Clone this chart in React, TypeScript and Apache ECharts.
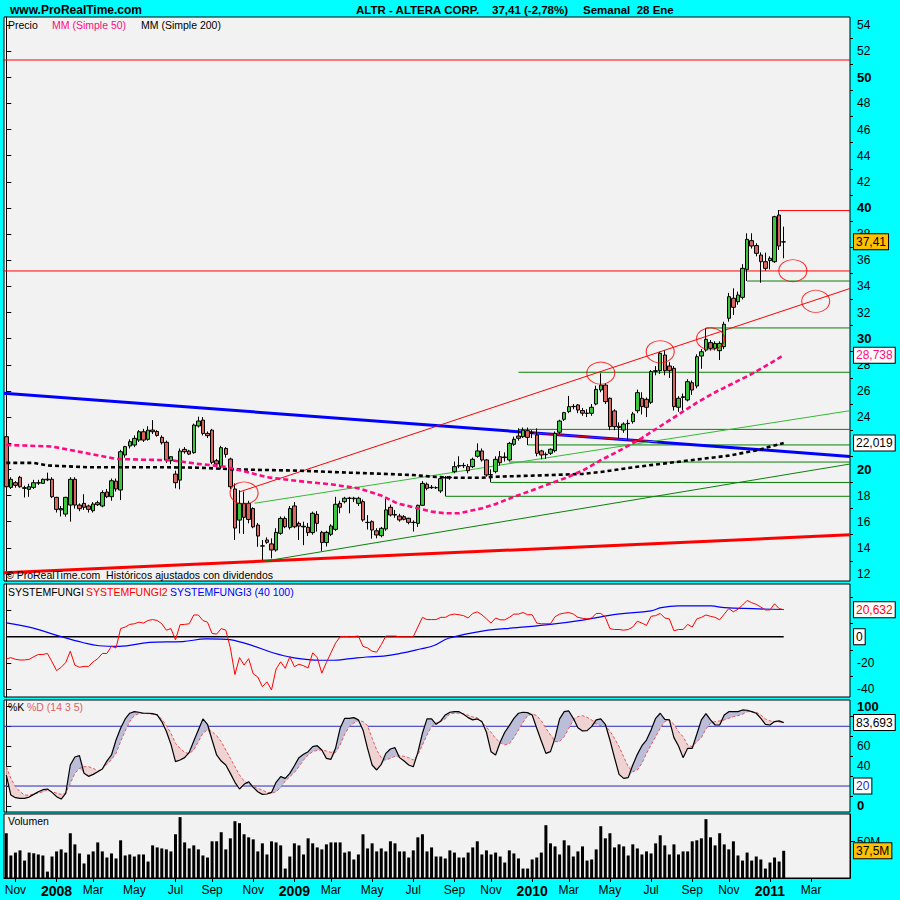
import React, { useEffect, useRef } from "react";
import * as echarts from "echarts";

const FONT = 'Arial, "Liberation Sans", sans-serif';
const START_UTC = Date.UTC(2007, 9, 22);
const N_WEEKS = 185;
const LAST_LABEL_IDX = 178;
const MONTHS = ["Ene", "Feb", "Mar", "Abr", "May", "Jun", "Jul", "Ago", "Sep", "Oct", "Nov", "Dic"];
const weeks: string[] = Array.from({ length: N_WEEKS }, (_, i) =>
  new Date(START_UTC + i * 7 * 86400000).toISOString().slice(0, 10)
);

// [open, close, low, high]
const ohlc: number[][] = [
  [22.5, 18.67, 18.3, 22.7], [18.62, 19.24, 18.5, 19.4], [18.98, 18.78, 18.6, 19.1], [19.39, 18.67, 18.6, 19.5], [18.55, 18.6, 17.85, 18.75],
  [18.47, 18.67, 17.9, 18.9], [18.62, 18.98, 18.5, 19.2], [18.95, 18.98, 18.8, 19.2], [18.93, 19.24, 18.9, 19.3], [19.2, 19.25, 19.1, 19.75],
  [19.24, 17.91, 17.8, 19.4], [17.86, 16.94, 16.7, 17.9], [16.9, 17.0, 16.4, 17.2], [16.58, 17.86, 16.38, 17.9], [17.27, 19.24, 16.0, 19.4],
  [19.24, 17.27, 17.0, 19.4], [17.27, 16.99, 16.8, 17.4], [17.4, 17.1, 16.9, 18.1], [17.2, 16.94, 16.7, 17.3], [16.84, 17.35, 16.7, 17.5],
  [17.3, 17.45, 17.2, 17.6], [17.2, 18.22, 17.1, 18.4], [18.27, 17.91, 17.8, 18.5], [17.91, 19.13, 17.6, 19.3], [19.1, 18.5, 18.3, 19.3],
  [18.42, 21.35, 17.65, 21.5], [21.1, 21.74, 20.9, 21.8], [21.79, 22.12, 21.6, 22.3], [21.86, 22.37, 21.7, 22.6], [22.24, 22.88, 22.1, 23.0],
  [22.88, 22.24, 22.1, 23.1], [22.3, 23.0, 22.2, 23.3], [23.01, 22.88, 22.7, 23.77], [22.9, 22.6, 22.5, 23.0], [22.45, 22.04, 21.9, 22.6],
  [22.07, 20.71, 20.5, 22.2], [20.66, 20.97, 20.4, 21.0], [19.64, 18.98, 18.55, 19.9], [19.18, 21.4, 18.47, 21.6], [21.53, 21.35, 21.2, 21.7],
  [21.4, 21.17, 21.1, 21.5], [21.28, 23.39, 21.2, 23.5], [23.32, 23.7, 23.2, 24.03], [23.77, 22.75, 22.6, 24.0], [22.75, 22.58, 22.4, 22.9],
  [23.0, 20.54, 20.4, 23.1], [20.66, 20.41, 20.2, 20.8], [20.2, 21.66, 20.0, 21.8], [21.6, 21.15, 20.9, 21.7], [20.79, 18.67, 18.5, 20.9],
  [18.5, 15.51, 14.6, 18.93], [16.12, 17.4, 15.1, 18.4], [17.4, 16.33, 15.05, 18.3], [17.4, 16.17, 15.87, 17.6], [17.0, 15.6, 15.5, 17.1],
  [15.74, 14.9, 14.08, 15.9], [14.15, 14.13, 13.06, 14.6], [14.6, 14.42, 14.3, 14.8], [14.3, 13.83, 13.19, 14.72], [13.83, 15.18, 13.7, 15.5],
  [15.11, 16.25, 15.0, 16.4], [16.25, 15.61, 15.5, 16.4], [15.56, 17.0, 15.4, 17.2], [17.2, 15.61, 15.5, 17.5], [15.87, 15.66, 14.6, 16.0],
  [15.6, 15.65, 14.2, 16.0], [15.57, 15.16, 14.9, 15.9], [15.16, 16.64, 15.0, 16.77], [16.56, 15.87, 15.24, 16.8], [15.18, 14.4, 13.76, 15.3],
  [14.4, 15.18, 14.1, 15.3], [15.03, 15.67, 14.9, 15.8], [15.41, 17.33, 15.3, 17.9], [17.4, 17.1, 16.64, 17.6], [17.53, 17.79, 17.4, 17.9],
  [17.8, 17.78, 16.64, 17.9], [17.75, 17.8, 17.5, 17.9], [17.4, 17.79, 17.2, 17.9], [17.53, 16.13, 16.0, 17.7], [15.95, 15.93, 15.4, 16.5],
  [16.0, 15.36, 14.7, 16.1], [15.3, 14.98, 14.73, 15.5], [14.93, 15.49, 14.8, 15.6], [15.44, 16.9, 15.3, 17.79], [17.1, 16.51, 16.4, 17.3],
  [16.5, 16.55, 16.3, 16.9], [16.43, 16.13, 16.0, 16.6], [16.38, 16.18, 16.1, 16.5], [16.26, 15.95, 15.8, 16.3], [15.95, 15.93, 15.24, 16.1],
  [15.87, 17.25, 15.6, 17.3], [17.25, 18.93, 17.2, 19.1], [18.86, 18.55, 18.4, 19.0], [18.6, 18.63, 18.5, 18.8], [18.6, 18.6, 18.5, 18.7],
  [18.35, 19.29, 18.2, 19.4], [19.35, 19.38, 17.96, 19.5], [19.35, 19.4, 19.2, 19.5], [19.83, 20.21, 19.7, 20.6], [20.25, 20.3, 20.1, 21.0],
  [20.3, 20.28, 20.1, 20.5], [20.21, 19.9, 19.7, 20.4], [20.21, 20.77, 20.1, 20.9], [21.0, 21.41, 20.9, 21.99], [21.41, 20.72, 20.6, 21.6],
  [20.72, 19.57, 19.44, 20.8], [19.6, 19.57, 19.0, 20.0], [19.83, 20.77, 19.7, 21.0], [20.97, 20.51, 20.3, 21.4], [20.9, 20.95, 20.6, 21.3],
  [20.72, 21.99, 20.6, 22.1], [21.92, 22.3, 21.8, 22.5], [22.55, 22.38, 22.2, 23.14], [22.5, 23.0, 22.4, 23.2], [22.96, 22.45, 21.87, 23.2],
  [22.8, 22.8, 22.4, 23.0], [22.63, 21.23, 21.0, 23.14], [21.41, 21.1, 20.77, 21.5], [21.12, 21.15, 20.8, 21.3], [21.23, 21.54, 21.1, 21.6],
  [21.43, 22.76, 21.3, 22.9], [22.84, 23.7, 22.7, 23.8], [23.83, 24.34, 23.7, 24.4], [24.42, 24.8, 24.3, 25.62], [24.8, 24.82, 24.6, 25.0],
  [24.93, 24.54, 24.3, 25.0], [24.5, 24.3, 24.1, 24.7], [24.3, 24.28, 24.0, 24.6], [24.29, 24.75, 24.1, 25.0], [25.0, 26.12, 24.9, 26.4],
  [26.07, 26.45, 25.9, 27.35], [26.45, 25.18, 25.0, 26.6], [25.44, 23.27, 23.0, 25.5], [24.47, 23.27, 23.0, 24.6], [23.3, 23.2, 22.37, 23.6],
  [23.01, 23.47, 22.8, 23.6], [23.5, 23.52, 22.25, 23.8], [23.65, 24.24, 23.5, 24.4], [24.49, 25.87, 24.3, 26.1], [25.44, 24.8, 24.2, 25.9],
  [25.36, 24.75, 24.0, 25.5], [25.13, 27.48, 25.0, 27.6], [27.5, 27.55, 27.2, 27.9], [27.55, 28.88, 27.3, 29.0], [28.75, 27.55, 27.2, 29.1],
  [27.91, 27.55, 27.0, 28.2], [27.73, 24.8, 24.5, 27.9], [24.75, 25.44, 24.4, 25.6], [25.5, 25.56, 24.5, 25.8], [25.31, 26.71, 25.2, 26.9],
  [26.63, 26.07, 25.7, 26.8], [26.38, 28.62, 26.2, 28.8], [28.67, 29.0, 27.7, 29.2], [29.13, 29.95, 29.0, 30.82], [29.7, 29.26, 29.1, 29.9],
  [29.26, 29.64, 29.1, 29.8], [29.08, 29.64, 28.37, 29.8], [29.39, 31.1, 29.2, 31.3], [31.56, 33.21, 31.3, 33.5], [33.09, 32.4, 31.81, 33.85],
  [32.83, 33.34, 32.6, 33.6], [33.16, 35.38, 33.0, 35.7], [35.3, 37.6, 34.41, 38.06], [37.5, 37.09, 36.9, 38.06], [37.12, 36.53, 36.3, 37.3],
  [36.4, 35.89, 34.28, 36.6], [35.89, 35.38, 35.2, 36.58], [35.97, 36.15, 35.3, 36.3], [35.89, 39.33, 35.8, 39.4], [39.46, 37.09, 36.78, 39.84],
  [37.4, 37.41, 36.15, 38.57],
];

// Volume, millions
const volume: number[] = [
  61.6, 31, 35, 38, 24, 35, 34, 32.4, 31, 8.8,
  29.6, 36.6, 39.4, 35, 61.6, 46.3, 33.8, 20, 32.4, 36.6,
  49, 36.6, 28.2, 33.8, 26.9, 51.9, 31, 32.4, 29.6, 32.4,
  32.4, 22.7, 44.9, 42.1, 40.7, 39.4, 36.6, 60.2, 83.8, 49,
  40.7, 44.9, 39.4, 31, 28.2, 50.5, 50.5, 63, 39.4, 54.6,
  78.2, 75.5, 60.2, 56, 53.2, 36.6, 47.7, 32.4, 50.5, 49,
  44.9, 13, 29.6, 47.7, 44.9, 32.4, 54.6, 47.7, 42.1, 39.4,
  46.3, 49, 49, 49, 35, 36.6, 25.5, 32.4, 60.2, 40.7,
  47.7, 36.6, 40.7, 36.6, 50.5, 47.7, 36.6, 36.6, 28.2, 38,
  56, 60.2, 36.6, 42.1, 29.6, 29.6, 26.9,
  38, 35, 28.2, 28.2, 35, 42.1, 50.5, 32.4, 38, 32.4,
  35, 29.6, 21.3, 38, 33.8, 26.9, 13, 13, 25.5, 28.2,
  35, 72.7, 47.7, 43.5, 32.4, 51.9, 44.9, 29.6, 36.6, 43.5,
  24, 25.5, 39.4, 71.3, 54.6, 61.6, 42.1, 46.3, 43.5, 31,
  46.3, 40.7, 32.4, 36.6, 33.8, 47.7, 58.8, 44.9, 32.4, 46.3,
  32.4, 36.6, 36.6, 50.5, 51.9, 54.6, 81, 56, 44.9, 61.6,
  46.3, 39.4, 50.5, 31, 24, 35, 24, 29.6, 25.5, 13,
  21.3, 28.2, 22.7, 37.5,
];

// SYSTEMFUNGI2 (red)
const fungi2: number[] = [
  -17, -16, -17.3, -17.8, -17.8, -17.3, -15.3, -13.6, -13.6, -12.8,
  -19.2, -25.9, -23.4, -19.7, -11.1, -21.7, -23.4, -22.7, -22.7, -19.2,
  -16.8, -12.8, -12.8, -7.4, -8.6, 6.2, 7.4, 9.4, 9.9, 11.1,
  10.4, 12.4, 13.1, 12.4, 9.9, 5, 6.2, -2.4, 9.2, 9.4,
  9.9, 16.6, 16.6, 12.4, 11.1, 2.5, 2, 6.2, 5, -8.6,
  -28.9, -16, -21.7, -16.8, -28.4, -30.8, -38.2, -34.5, -40.7, -24.7,
  -19.2, -24.2, -15.3, -22.9, -21, -22.2, -23.9, -12.3, -16, -27.9,
  -19.7, -12.3, -4.9, 0, 0.2, 0, 0.1, 0.5, -7.4, -8.6,
  -11.1, -11.8, -6.1, 0.5, 0.5, 0.5, 0, 0, 0, 0,
  7.4, 14.8, 13.1, 13.1, 13.1, 14.8, 14.8, 16.6, 17.3, 16.8,
  16.1, 14.3, 17.8, 19, 16.8, 13.6, 10.4, 14.3, 12.9, 12.9,
  14.8, 17.3, 17.3, 18.5, 16.8, 16.8, 10.4, 9.9, 9.9, 9.9,
  15.3, 17.3, 18, 18.5, 17.3, 14.8, 14.1, 13.6, 14.3, 17.8,
  17.8, 14.8, 6.2, 5.5, 5.5, 5, 5.5, 7.4, 11.9, 10.4,
  8.7, 15.6, 16.1, 17.8, 14.3, 13.6, 4.5, 5.5, 5.5, 9.4,
  7.4, 13.6, 14.8, 16.6, 15.6, 14.8, 12.9, 17.3, 21.5, 19,
  21, 24.2, 27.7, 26, 24.7, 22.7, 20.5, 20.5, 25.2, 21.5,
  20.63,
];

// SYSTEMFUNGI3 (blue), [week index, value]
const fungi3: number[][] = [
  [0, 10.6], [5.7, 6.7], [11.6, 0.5], [16.7, -4.4], [20.3, -6.9], [24.7, -7.4], [31.3, -4.4], [38.6, -3.7],
  [43.7, -1.7], [48.1, -2.0], [53.2, -6.1], [58.3, -12.3], [62.7, -16.0], [68.6, -18.0], [71.5, -18.0],
  [75.2, -16.8], [78.8, -15.5], [82.5, -14.8], [86.1, -12.8], [90.5, -9.4], [93.4, -6.9], [96.7, -1.2],
  [104.4, 4.5], [111.7, 6.9], [119, 9.4], [126.4, 12.9], [133.7, 17.3], [141, 19.8], [143.2, 22.2],
  [146.9, 23.5], [154.1, 23.5], [157.1, 22.2], [170, 20.8],
];

// Stochastic %K and %D
const stochK: number[] = [
  31, 10.9, 8.3, 7.6, 7.6, 8.9, 11.6, 14.3, 16.3, 17,
  13.6, 9.3, 6.9, 12.6, 41.1, 49.1, 50.5, 32.7, 29.7, 31.7,
  34.4, 37.1, 45.1, 51.2, 66.2, 78, 87.4, 93.1, 94.7, 94.1,
  93.1, 93.1, 92.7, 91.4, 84.7, 75, 62, 44.5, 46.1, 48.5,
  53.8, 65.2, 76.3, 87.4, 82, 66.2, 51.2, 45.1, 41.1, 32.7,
  23.7, 17, 21.7, 24.3, 18.6, 14.3, 11.6, 12, 13.6, 23.7,
  29.4, 27.7, 32.7, 40.4, 48.5, 51.8, 54.5, 59.5, 60.5, 56.2,
  47.8, 46.8, 57.9, 78, 88, 88, 88.7, 86.4, 76.3, 57.9,
  41.1, 36.1, 41.8, 52.8, 57.2, 58.5, 48.5, 45.1, 41.1, 39.4,
  53.8, 73, 87.4, 87.4, 82, 85.4, 91.4, 94.1, 94.7, 94.7,
  92.1, 88.7, 86.4, 87.4, 84.7, 74, 54.5, 51.2, 63.9, 74,
  80.7, 88, 93.1, 94.1, 93.7, 91.4, 78, 65.2, 52.8, 54.5,
  68.6, 87.4, 94.7, 95.4, 88, 78.6, 75.3, 75.6, 79.7, 86.4,
  87.4, 82, 66.2, 48.5, 31.7, 27.7, 28.4, 41.1, 51.8, 60.5,
  66.2, 76.3, 88, 93.1, 87, 86.4, 68.6, 60.2, 48.5, 57.9,
  57.9, 72, 86.4, 92.7, 86.4, 81.3, 81.3, 91.4, 94.7, 94.7,
  94.7, 96.4, 96.1, 94.7, 93.1, 88, 82, 81.3, 84.7, 85.4,
  83.69,
];
const stochD: number[] = [
  39.4, 27.7, 19.3, 14.3, 10.9, 10.9, 11.9, 12.9, 14.3, 16,
  14.3, 12.9, 11.6, 12.9, 22.7, 32.7, 37.7, 39.4, 39.4, 37.7,
  35.1, 37.1, 41.8, 46.5, 52.8, 64.6, 75.3, 84.7, 90.7, 92.7,
  93.1, 92.7, 92.1, 91.4, 87.4, 80.7, 73, 62.9, 57.9, 53.8,
  52.5, 56.2, 64.6, 73, 76.6, 74.6, 70.6, 64.6, 56.2, 47.8,
  39.4, 31, 25, 21.7, 19.3, 17.6, 16, 13.6, 12.6, 14.3,
  18.3, 25, 29.4, 33.7, 39.4, 46.1, 51.2, 54.5, 55.9, 56.2,
  55.2, 53.8, 53.8, 61.2, 72, 79.7, 83.3, 86, 84.7, 80.7,
  67.9, 56.2, 48.5, 46.1, 47.8, 49.8, 50.5, 49.8, 48.5, 46.1,
  51.2, 61.2, 71.3, 79.7, 83.3, 84.7, 87.4, 92.7, 93.1, 93.1,
  92.4, 91.1, 89.4, 88.7, 84, 79, 74, 67.9, 63.6, 61.2,
  62.6, 68.6, 76.3, 84, 90.7, 92.4, 90.7, 85.4, 78, 71.3,
  64.6, 64.6, 69.6, 78, 86.4, 89.7, 90.7, 89, 86.4, 82.3,
  80.7, 80.7, 75.3, 67.9, 59.5, 49.5, 39.4, 34.4, 36.1, 42.8,
  52.8, 61.2, 69.6, 78, 84.7, 86.4, 82, 74.6, 69.6, 61.2,
  59.5, 64.6, 68.6, 77.3, 83, 84.7, 85.4, 86.4, 88, 89.7,
  90.7, 92.1, 94.7, 94.7, 94.1, 91.4, 87.4, 85.4, 84.7, 84.3,
  84,
];

// Moving averages, [week index, value]
const ma50: number[][] = [
  [0, 21.87], [10, 21.75], [17, 21.28], [24, 20.8], [30, 20.74], [36, 20.7], [42, 20.42], [48, 20.2],
  [52, 19.85], [57, 19.4], [64, 19.1], [71, 18.86], [77, 18.55], [82, 18.0], [85.5, 17.4], [89, 17.1],
  [93, 16.77], [96, 16.64], [99, 16.64], [104, 17.02], [107, 17.35], [111, 17.9], [115, 18.4], [118, 18.8],
  [122, 19.3], [126, 19.9], [130, 20.7], [135, 21.6], [139, 22.4], [143, 23.3], [147, 24.2], [151, 25.1],
  [155, 25.9], [159, 26.6], [163, 27.3], [167, 28.1], [170, 28.74],
];
const ma200: number[][] = [
  [0, 20.5], [6, 20.5], [9, 20.3], [18, 20.16], [35, 20.16], [42, 20.13], [50, 20.0], [57, 19.95],
  [64, 19.9], [75, 19.75], [89, 19.57], [93, 19.44], [98, 19.36], [104, 19.36], [107, 19.44], [115, 19.52],
  [122, 19.6], [126, 19.65], [130, 19.8], [138, 20.2], [145, 20.5], [152, 20.8], [158, 21.05], [164, 21.45],
  [170, 22.02],
];

// Drawn annotations, [week index, price]
const blueTrend = [[-0.5, 25.82], [184.5, 20.99]];
const redBaseTrend = [[-0.5, 12.1], [184.5, 14.99]];
const redUpTrend = [[51.1, 18.29], [184.5, 33.84]];
const redShort = [[112.4, 22.86], [142.5, 22.1]];
const greenUpTrend = [[54.3, 17.41], [184.5, 24.49]];
const greenLowTrend = [[56, 12.95], [184.5, 20.41]];
const redLevels = [[-0.5, 51.32], [-0.5, 35.18], [169, 39.8]];
const greenLevels = [[112, 27.43], [112, 23.06], [114, 21.87], [110, 20.56], [106, 19.0], [96, 17.94], [153, 30.82], [162, 34.41]];
const circles = [[52, 18.19], [130, 27.37], [143, 29.0], [154, 29.99], [172, 35.2], [177, 32.86]];

// Axis labels (values hidden behind the value tags are left out)
const PRICE_LABELS = [12, 14, 16, 18, 20, 24, 26, 28, 30, 32, 34, 36, 38, 40, 42, 44, 46, 48, 50, 52, 54];
const PRICE_TICKS = [12, 14, 16, 18, 20, 22, 24, 26, 28, 30, 32, 34, 36, 38, 40, 42, 44, 46, 48, 50, 52, 54];
const PRICE_MINOR = [13, 15, 17, 19, 21, 23, 25, 27, 29, 31, 33, 35, 37, 39, 41, 43, 45, 47, 49, 51, 53];
const OSC_LABELS = [-40, -20];
const OSC_MAJOR = [-40, -20, 0, 20];
const OSC_MINOR = [-30, -10, 10, 30];
const STO_LABELS = [0, 40, 60, 100];
const STO_MAJOR = [0, 20, 40, 60, 80, 100];
const STO_MINOR = [10, 30, 50, 70, 90];

const PINK = "#FF0A80";
const LAST = N_WEEKS - 0.5;

const isLabelIdx = (idx: number) => {
  if (idx > LAST_LABEL_IDX) return false;
  const d = new Date(START_UTC + idx * 7 * 86400000);
  return d.getUTCDate() <= 7 && d.getUTCMonth() % 2 === 0;
};

function seg(data: number[][], color: string, width: number, z = 2, type: any = "solid") {
  return {
    type: "line", xAxisIndex: 4, yAxisIndex: 0, data, symbol: "none", silent: true, z,
    lineStyle: { color, width, type },
  };
}

function buildOption(): any {
  const grids = [
    { top: 17, height: 564 },
    { top: 584, height: 113 },
    { top: 700, height: 112 },
    { top: 814, height: 64 },
  ].map((g) => ({ ...g, left: 4, right: 50, show: true, backgroundColor: "#F2F2F2", borderColor: "#000", borderWidth: 1 }));

  const hiddenCat = (gridIndex: number) => ({ type: "category", gridIndex, data: weeks, show: false });
  const hiddenVal = (gridIndex: number) => ({ type: "value", gridIndex, min: -0.5, max: LAST, show: false });

  const yMajor = (gridIndex: number, min: number, max: number, labels: number[], ticks: number[], fmt: any) => ({
    type: "value", gridIndex, position: "right", min, max,
    splitLine: { show: false },
    axisLine: { show: true, lineStyle: { color: "#000", width: 1 } },
    axisTick: { show: true, length: 5, customValues: ticks, lineStyle: { color: "#000" } },
    axisLabel: {
      customValues: labels, formatter: fmt, margin: 7, color: "#000", fontSize: 12, fontFamily: FONT,
      rich: { b: { fontWeight: "bold", fontSize: 13, fontFamily: FONT, color: "#000" } },
    },
  });
  const yMinor = (gridIndex: number, min: number, max: number, ticks: number[]) => ({
    type: "value", gridIndex, position: "right", offset: 0, min, max,
    splitLine: { show: false }, axisLine: { show: false },
    axisTick: { show: true, length: 3, customValues: ticks, lineStyle: { color: "#000" } },
    axisLabel: { show: false },
  });

  const boldTens = (v: number) => (v % 10 === 0 ? `{b|${v}}` : `${v}`);
  const boldEnds = (v: number) => (v === 0 || v === 100 ? `{b|${v}}` : `${v}`);

  const kdBase = stochK.map((k, i) => Math.min(k, stochD[i]));
  const kdUp = stochK.map((k, i) => Math.max(k - stochD[i], 0));
  const kdDown = stochK.map((k, i) => Math.max(stochD[i] - k, 0));

  return {
    animation: false,
    backgroundColor: "#00FFFF",
    grid: grids,
    xAxis: [
      hiddenCat(0), hiddenCat(1), hiddenCat(2),
      {
        type: "category", gridIndex: 3, data: weeks,
        axisLine: { show: true, lineStyle: { color: "#000" } },
        axisTick: { show: true, alignWithLabel: true, interval: (i: number) => isLabelIdx(i), length: 4, lineStyle: { color: "#000" } },
        axisLabel: {
          interval: (i: number) => isLabelIdx(i), margin: 6, color: "#000", fontSize: 12, fontFamily: FONT,
          formatter: (v: string) => {
            const d = new Date(v + "T00:00:00Z");
            const m = d.getUTCMonth();
            return m === 0 ? `{y|${d.getUTCFullYear()}}` : MONTHS[m];
          },
          rich: { y: { fontWeight: "bold", fontSize: 14, fontFamily: FONT, color: "#000" } },
        },
        splitLine: { show: false },
      },
      hiddenVal(0), hiddenVal(1), hiddenVal(2),
    ],
    yAxis: [
      yMajor(0, 11.46, 54.61, PRICE_LABELS, PRICE_TICKS, boldTens),
      yMinor(0, 11.46, 54.61, PRICE_MINOR),
      yMajor(1, -46.1, 40.3, OSC_LABELS, OSC_MAJOR, (v: number) => `${v}`),
      yMinor(1, -46.1, 40.3, OSC_MINOR),
      yMajor(2, -6.1, 106.4, STO_LABELS, STO_MAJOR, boldEnds),
      yMinor(2, -6.1, 106.4, STO_MINOR),
      yMajor(3, 0, 88.1, [50], [50], () => "50M"),
    ],
    series: [
      // price panel annotations
      ...redLevels.map((p) => seg([p, [LAST, p[1]]], "#FF0000", 1)),
      ...greenLevels.map((p) => seg([p, [LAST, p[1]]], "#0A800A", 1)),
      seg(blueTrend, "#0000FF", 3),
      seg(redBaseTrend, "#FF0000", 3),
      seg(redUpTrend, "#FF0000", 1),
      seg(redShort, "#FF0000", 1),
      seg(greenUpTrend, "#33BB33", 1),
      seg(greenLowTrend, "#0A800A", 1),
      {
        type: "candlestick", xAxisIndex: 0, yAxisIndex: 0, data: ohlc, barWidth: 4, z: 3,
        itemStyle: { color: "#3DC53D", color0: "#D9665E", borderColor: "#000", borderColor0: "#000", borderWidth: 1 },
      },
      seg(ma200, "#000000", 2.6, 4, [4, 3]),
      seg(ma50, PINK, 2.6, 4, [5, 3]),
      {
        type: "scatter", xAxisIndex: 4, yAxisIndex: 0, data: circles, symbol: "circle", symbolSize: [28, 22], z: 5,
        itemStyle: { color: "rgba(0,0,0,0)", borderColor: "#FF0000", borderWidth: 1 }, silent: true,
      },
      // oscillator panel
      {
        type: "line", xAxisIndex: 5, yAxisIndex: 2, data: [[0, 0], [170, 0]], symbol: "none",
        lineStyle: { color: "#000", width: 1.5 }, z: 2,
      },
      {
        type: "line", xAxisIndex: 5, yAxisIndex: 2, data: fungi3, symbol: "none", smooth: 0.4,
        lineStyle: { color: "#0000FF", width: 1.2 }, z: 3,
      },
      {
        type: "line", xAxisIndex: 1, yAxisIndex: 2, data: fungi2, symbol: "none",
        lineStyle: { color: "#FF0000", width: 1 }, z: 4,
      },
      // stochastic panel
      {
        type: "line", xAxisIndex: 6, yAxisIndex: 4, data: [[-0.5, 80], [LAST, 80]], symbol: "none",
        lineStyle: { color: "#2828C0", width: 1 }, z: 1,
      },
      {
        type: "line", xAxisIndex: 6, yAxisIndex: 4, data: [[-0.5, 20], [LAST, 20]], symbol: "none",
        lineStyle: { color: "#2828C0", width: 1 }, z: 1,
      },
      { type: "line", xAxisIndex: 2, yAxisIndex: 4, data: kdBase, stack: "kd", symbol: "none", lineStyle: { opacity: 0 }, z: 2 },
      {
        type: "line", xAxisIndex: 2, yAxisIndex: 4, data: kdUp, stack: "kd", symbol: "none", lineStyle: { opacity: 0 },
        areaStyle: { color: "#BCBED9", opacity: 1 }, z: 2,
      },
      {
        type: "line", xAxisIndex: 2, yAxisIndex: 4, data: kdDown, stack: "kd", symbol: "none", lineStyle: { opacity: 0 },
        areaStyle: { color: "#EFD2D2", opacity: 1 }, z: 2,
      },
      {
        type: "line", xAxisIndex: 2, yAxisIndex: 4, data: stochD, symbol: "none",
        lineStyle: { color: "#E05A5A", width: 1, type: [3, 2] }, z: 3,
      },
      {
        type: "line", xAxisIndex: 2, yAxisIndex: 4, data: stochK, symbol: "none",
        lineStyle: { color: "#000", width: 1.2 }, z: 4,
      },
      // volume
      { type: "bar", xAxisIndex: 3, yAxisIndex: 6, data: volume, barWidth: 3, itemStyle: { color: "#000" } },
    ],
  };
}

function txt(text: string, x: number, y: number, fill: string, font: string, extra: any = {}) {
  return {
    type: "text", x, y, z: 100, silent: true,
    style: { text, fill, font, verticalAlign: "middle", align: "left", ...extra },
  };
}

function buildGraphics(chart: any) {
  const py = (axis: number, v: number) => chart.convertToPixel({ yAxisIndex: axis }, v) as number;
  const small = `10.5px ${FONT}`;
  const tagFont = `12px ${FONT}`;
  const head = `bold 11.5px ${FONT}`;
  const box = (bg: string) => ({ backgroundColor: bg, borderColor: "#000", borderWidth: 1, padding: [2, 2, 1, 2] });
  return [
    txt("www.ProRealTime.com", 10, 10, "#000", `bold 12px ${FONT}`),
    txt("ALTR - ALTERA CORP.", 356, 10, "#000", head),
    txt("37,41 (-2,78%)", 492, 10, "#000", head),
    txt("Semanal  28 Ene", 583, 10, "#000", head),
    txt("Precio", 8, 25, "#000", small),
    txt("MM (Simple 50)", 52, 25, PINK, small),
    txt("MM (Simple 200)", 141, 25, "#000", small),
    txt("\u00A9 ProRealTime.com  Hist\u00F3ricos ajustados con dividendos", 6, 575, "#000", `10.5px ${FONT}`),
    txt("SYSTEMFUNGI", 8, 592, "#000", small),
    txt("SYSTEMFUNGI2", 86, 592, "#FF0000", small),
    txt("SYSTEMFUNGI3 (40 100)", 170, 592, "#0000FF", small),
    txt("%K", 8, 707, "#000", small),
    txt("%D (14 3 5)", 27, 707, "#E06060", small),
    txt("Volumen", 8, 821, "#000", small),
    // value tags on the right axis
    txt("37,41", 854, py(0, 37.41), "#000", tagFont, box("#FFC000")),
    txt("28,738", 854, py(0, 28.738), PINK, tagFont, box("#FFFFFF")),
    txt("22,019", 854, py(0, 22.019), "#000", tagFont, box("#FFFFFF")),
    txt("20,632", 854, py(2, 20.632), "#FF0000", tagFont, box("#FFFFFF")),
    txt("0", 854, py(2, 0), "#000", tagFont, box("#FFFFFF")),
    txt("83,693", 854, py(4, 83.693), "#000", tagFont, box("#FFFFFF")),
    txt("20", 854, py(4, 20), "#2828C0", tagFont, box("#FFFFFF")),
    txt("37,5M", 854, py(6, 37.5), "#000", tagFont, box("#FFC000")),
  ];
}

export default function App() {
  const ref = useRef<HTMLDivElement>(null);
  useEffect(() => {
    const chart = echarts.init(ref.current as HTMLDivElement, null, { renderer: "svg" });
    chart.setOption(buildOption());
    chart.setOption({ graphic: buildGraphics(chart) });
    return () => chart.dispose();
  }, []);
  return <div ref={ref} style={{ position: "absolute", left: 0, top: 0, width: 900, height: 900 }} />;
}
